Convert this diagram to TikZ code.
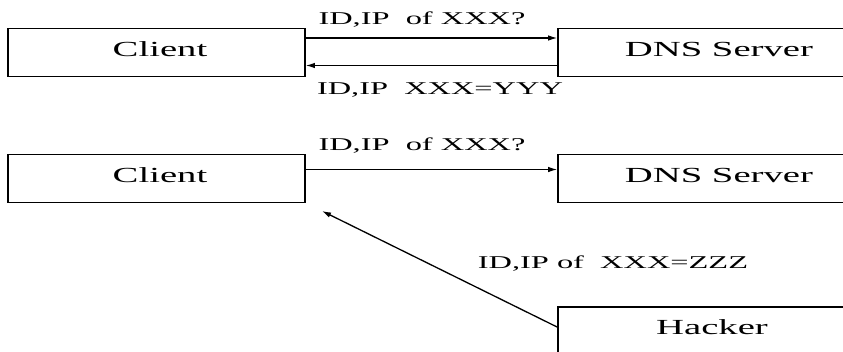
\documentclass[tikz,border=0pt]{standalone}
\usepackage{fontspec}
\setmainfont{Liberation Serif}[FakeStretch=1.8]
\usetikzlibrary{arrows.meta}
\begin{document}
\begin{tikzpicture}[x=1pt,y=-1pt,
  box/.style={draw,line width=1.8pt,minimum width=297pt,minimum height=48pt,inner sep=0pt},
  wide/.style={box,minimum width=304pt},
  msg/.style={line width=1.1pt,-{Latex[length=9pt,width=5.5pt]}},
  lbl/.style={inner sep=0pt,font=\fontsize{18}{20}\selectfont},
  txt/.style={font=\fontsize{21.5}{24}\selectfont}]
\useasboundingbox (0,0) rectangle (843,351);
\clip (0,0) rectangle (843,351);
\fill[white] (0,0) rectangle (843,351);

% normal lookup
\node[box] (c1) at (156.5,52.5) {};
\node[txt] at (160,49) {Client};
\node[wide] (d1) at (710,52.5) {};
\node[txt] at (719,49) {DNS\ Server};
\draw[msg] ([yshift=14.5pt]c1.east) -- ([yshift=14.5pt]d1.west);
\draw[msg] ([yshift=-13pt]d1.west) -- ([yshift=-13pt]c1.east);
\node[lbl] (q1) at (422,20) {ID,IP\ \ of XXX?};
\node[lbl] (a1) at (440,90) {ID,IP\ \ XXX=YYY};

% spoofed reply
\node[box] (c2) at (156.5,178.5) {};
\node[txt] at (160,175) {Client};
\node[wide] (d2) at (710,178.5) {};
\node[txt] at (719,175) {DNS\ Server};
\draw[msg] ([yshift=9pt]c2.east) -- ([yshift=9pt]d2.west);
\node[lbl] (q2) at (422,146) {ID,IP\ \ of XXX?};

\node[wide] (h) at (710,331) {};
\node[txt] at (712,327) {Hacker};
\coordinate (hit) at (322,211);
\draw[msg,line width=1.3pt] ([yshift=4pt]h.west) -- (hit);
\node[lbl] (a2) at (613,264) {ID,IP of\ \ XXX=ZZZ};
\end{tikzpicture}
\end{document}
